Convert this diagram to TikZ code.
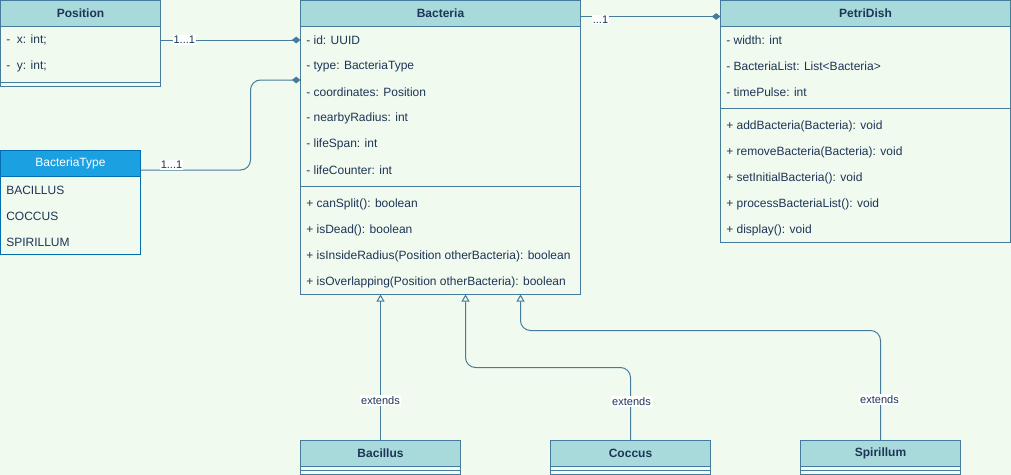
\documentclass[tikz,border=0pt]{standalone}
\usepackage{fontspec}
\setmainfont{Liberation Sans}
\usetikzlibrary{arrows.meta,calc}
\definecolor{bg}{HTML}{F1FAEE}
\definecolor{ln}{HTML}{457B9D}
\definecolor{hf}{HTML}{A8DADC}
\definecolor{tx}{HTML}{1D3557}
\definecolor{bthf}{HTML}{1BA1E2}
\definecolor{btln}{HTML}{006EAF}
\begin{document}
\begin{tikzpicture}[x=0.75pt,y=-0.75pt,
  cls/.style 2 args={draw=ln, line width=0.75pt, inner sep=0, outer sep=0, anchor=north west, minimum width=#1, minimum height=#2},
  hdr/.style={draw=ln, line width=0.75pt, fill=hf, inner sep=0, outer sep=0, anchor=north west, minimum width=#1, minimum height=19.5pt, font=\bfseries\fontsize{9}{11}\selectfont, text=tx},
  row/.style={anchor=west, inner sep=0, yshift=-0.75pt, font=\fontsize{9}{11}\selectfont, text=tx},
  sep/.style={draw=ln, line width=0.75pt},
  conn/.style={draw=ln, line width=0.75pt},
  lbl/.style={fill=white, inner sep=0.8pt, font=\fontsize{8.25}{10}\selectfont, text=tx},
  agg/.style={-{Diamond[fill=ln, length=6.5pt, width=5pt]}},
  ext/.style={-{Triangle[open, fill=bg, length=5.25pt, width=6pt]}}
]
\fill[bg] (0,0) rectangle (1011,475);
\useasboundingbox (0,0) rectangle (1011,475);

% Position
\node[cls={120pt}{64.5pt}] (pos) at (0.5,0.5) {};
\node[hdr=120pt] (poshdr) at (0.5,0.5) {Position};
\node[row] (posx) at (6,39) {-\ \ x: int;};
\node[row] (posy) at (6,65) {-\ \ y: int;};
\draw[sep] ($(pos.north west)+(0,82)$) -- ($(pos.north east)+(0,82)$);

% BacteriaType
\node[cls={105pt}{78pt}, draw=btln] (bt) at (0.5,150) {};
\node[hdr=105pt, draw=btln, fill=bthf, text=white, font=\fontsize{9}{11}\selectfont] (bthdr) at (0.5,150) {BacteriaType};
\node[row] (btb) at (6,189) {BACILLUS};
\node[row] (btc) at (6,215) {COCCUS};
\node[row] (bts) at (6,241) {SPIRILLUM};

% Bacteria
\node[cls={210pt}{220.5pt}] (bact) at (300.5,0.5) {};
\node[hdr=210pt] (bhdr) at (300.5,0.5) {Bacteria};
\node[row] (bid) at (306,39) {- id: UUID};
\node[row] (btype) at (306,65) {- type: BacteriaType};
\node[row] (bcoord) at (306,91) {- coordinates: Position};
\node[row] (brad) at (306,117) {- nearbyRadius: int};
\node[row] (bspan) at (306,143) {- lifeSpan: int};
\node[row] (bcount) at (306,169) {- lifeCounter: int};
\draw[sep] ($(bact.north west)+(0,186)$) -- ($(bact.north east)+(0,186)$);
\node[row] (bsplit) at (306,203) {+ canSplit(): boolean};
\node[row] (bdead) at (306,229) {+ isDead(): boolean};
\node[row] (binside) at (306,255) {+ isInsideRadius(Position otherBacteria): boolean};
\node[row] (bover) at (306,281) {+ isOverlapping(Position otherBacteria): boolean};

% PetriDish
\node[cls={217.5pt}{181.5pt}] (pd) at (720.5,0.5) {};
\node[hdr=217.5pt] (pdhdr) at (720.5,0.5) {PetriDish};
\node[row] (pdw) at (726,39) {- width: int};
\node[row] (pdl) at (726,65) {- BacteriaList: List<Bacteria>};
\node[row] (pdt) at (726,91) {- timePulse: int};
\draw[sep] ($(pd.north west)+(0,108)$) -- ($(pd.north east)+(0,108)$);
\node[row] (pda) at (726,125) {+ addBacteria(Bacteria): void};
\node[row] (pdr) at (726,151) {+ removeBacteria(Bacteria): void};
\node[row] (pds) at (726,177) {+ setInitialBacteria(): void};
\node[row] (pdp) at (726,203) {+ processBacteriaList(): void};
\node[row] (pdd) at (726,229) {+ display(): void};

% Subclasses
\foreach \nm/\txt/\xx in {bac/Bacillus/300.5, coc/Coccus/550.5, spi/Spirillum/800.5}{
  \node[cls={120pt}{25.5pt}] (\nm) at (\xx,440.5) {};
  \node[hdr=120pt] (\nm hdr) at (\xx,440.5) {\txt};
  \draw[sep] ($(\nm.north west)+(0,29.5)$) -- ($(\nm.north east)+(0,29.5)$);
}

% Associations
\draw[conn, agg] (posx.west -| pos.east) -- node[lbl, pos=0.17] {1...1} (bid.west -| bact.west);
\coordinate (btin) at ($(bact.north west)+(0,79.5)$);
\draw[conn, agg, rounded corners=7.5pt] ($(bthdr.east)+(0,7)$) -| ($(btin)+(-50,0)$) -- (btin);
\node[lbl] (btlbl) at ($(bthdr.east)+(31,2)$) {1...1};
\draw[conn, agg] ($(bhdr.east)+(0,3)$) -- ($(pdhdr.west)+(0,3)$);
\node[lbl] (pdlbl) at ($(bhdr.east)+(20,6)$) {...1};

% Generalisations
\draw[conn, ext] (bac.north) -- ($(bact.south)+(-60,0)$);
\node[lbl] at ($(bac.north)+(0,-40)$) {extends};
\draw[conn, ext, rounded corners=7.5pt] (coc.north) |- ($(bact.south)+(25,73)$) -- ($(bact.south)+(25,0)$);
\node[lbl] at ($(coc.north)+(1,-39)$) {extends};
\draw[conn, ext, rounded corners=7.5pt] (spi.north) |- ($(bact.south)+(80,36)$) -- ($(bact.south)+(80,0)$);
\node[lbl] at ($(spi.north)+(-1,-41)$) {extends};
\end{tikzpicture}
\end{document}
